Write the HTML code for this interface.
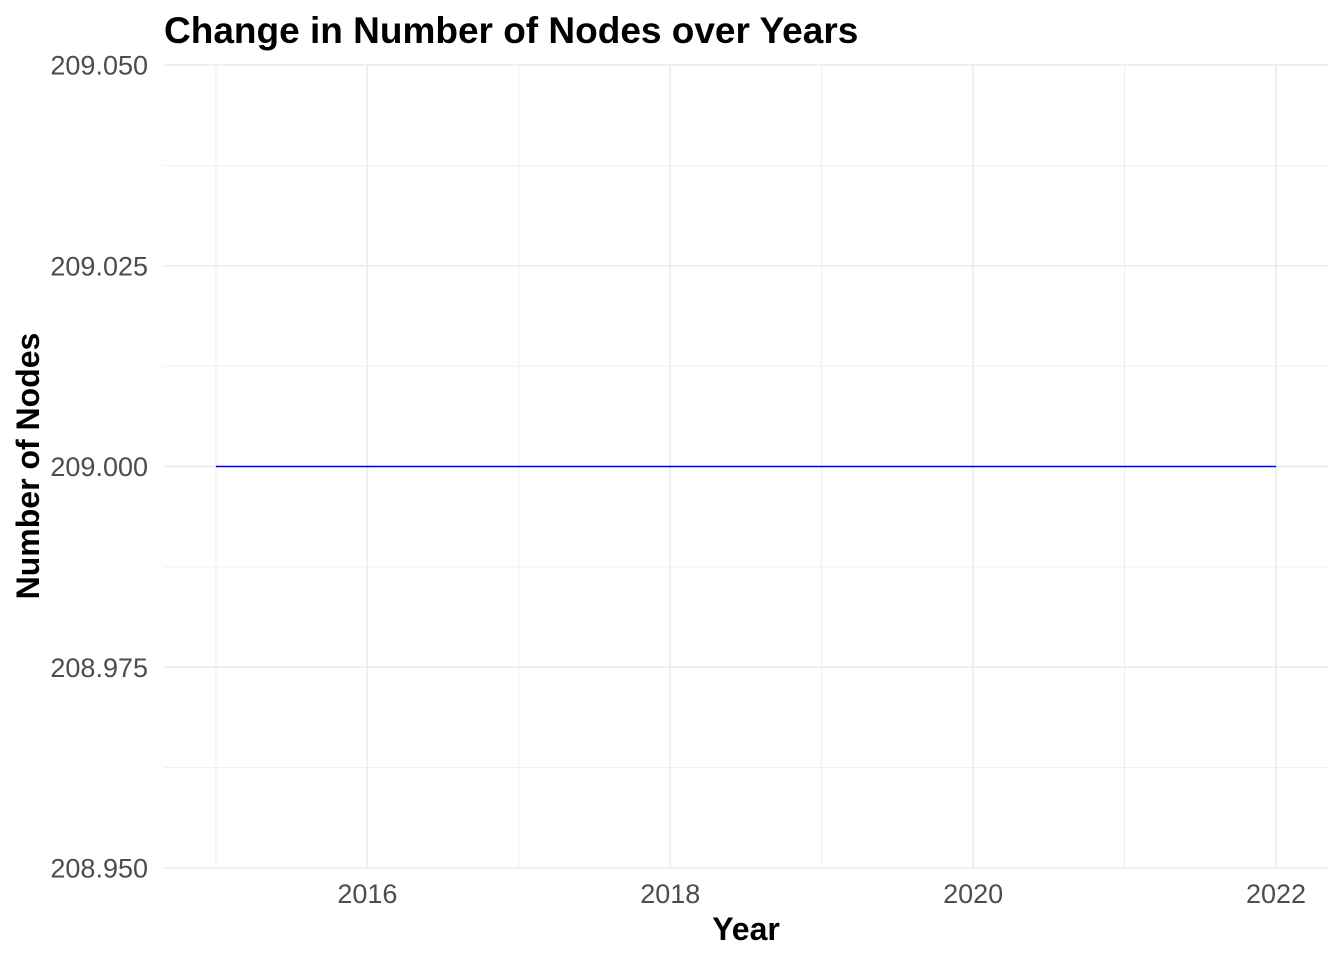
<!DOCTYPE html>
<html><head><meta charset="utf-8"><style>
html,body{margin:0;padding:0;background:#fff;}
svg{display:block;font-family:"Liberation Sans",Arial,sans-serif;}
</style></head><body>
<svg id="chart" width="1344" height="960">
<text x="164" y="43" font-size="37" font-weight="bold" fill="#000">Change in Number of Nodes over Years</text>
<g id="grid"></g>
<g id="axes"></g>
<g id="series"></g>
<text x="746" y="940" font-size="32" font-weight="bold" text-anchor="middle">Year</text>
<text transform="translate(39,466) rotate(-90)" font-size="32" font-weight="bold" text-anchor="middle">Number of Nodes</text>
</svg>
<script>
const years = [2015, 2016, 2017, 2018, 2019, 2020, 2021, 2022];
const nodes = [209, 209, 209, 209, 209, 209, 209, 209];
const xTicks = [2016, 2018, 2020, 2022];
const yTicks = [208.95, 208.975, 209.0, 209.025, 209.05];
const yTickLabels = ["208.950", "208.975", "209.000", "209.025", "209.050"];

const ns = "http://www.w3.org/2000/svg";
const L = 164, R = 1329, T = 65, B = 868;
const xMin = 2014.657, xMax = 2022.35, yMin = 208.95, yMax = 209.05;
const xS = v => L + (v - xMin) / (xMax - xMin) * (R - L);
const yS = v => B - (v - yMin) / (yMax - yMin) * (B - T);
function mk(tag, attrs, parent){const e=document.createElementNS(ns,tag);for(const k in attrs)e.setAttribute(k,attrs[k]);parent.appendChild(e);return e;}
const grid = document.getElementById('grid'), axes = document.getElementById('axes'), series = document.getElementById('series');

for (let i = 0; i < yTicks.length - 1; i++) {
  const y = yS((yTicks[i] + yTicks[i+1]) / 2);
  const l = mk('line',{x1:L,x2:R,y1:y,y2:y,stroke:'#ebebeb','stroke-width':0.8},grid);
  
  
}
for (let v = 2015; v <= 2021; v += 2) {
  const x = xS(v);
  const l = mk('line',{x1:x,x2:x,y1:T,y2:B,stroke:'#ebebeb','stroke-width':0.8},grid);
  
  
}
yTicks.forEach((v,i) => {
  const y = yS(v);
  const l = mk('line',{x1:L,x2:R,y1:y,y2:y,stroke:'#ebebeb','stroke-width':1.6},grid);
  
  
  const t = mk('text',{x:148,y:y+9.5,'font-size':27,fill:'#4d4d4d','text-anchor':'end'},axes);
  t.textContent = yTickLabels[i];
  
  
});
xTicks.forEach(v => {
  const x = xS(v);
  const l = mk('line',{x1:x,x2:x,y1:T,y2:B,stroke:'#ebebeb','stroke-width':1.6},grid);
  
  
  const t = mk('text',{x:x,y:903,'font-size':27,fill:'#4d4d4d','text-anchor':'middle'},axes);
  t.textContent = String(v);
  
  
});
const pts = years.map((y,i) => xS(y).toFixed(1) + ',' + yS(nodes[i]).toFixed(1)).join(' ');
const pl = mk('polyline',{points:pts,fill:'none',stroke:'#0000ff','stroke-width':1.6},series);


</script>
</body></html>
